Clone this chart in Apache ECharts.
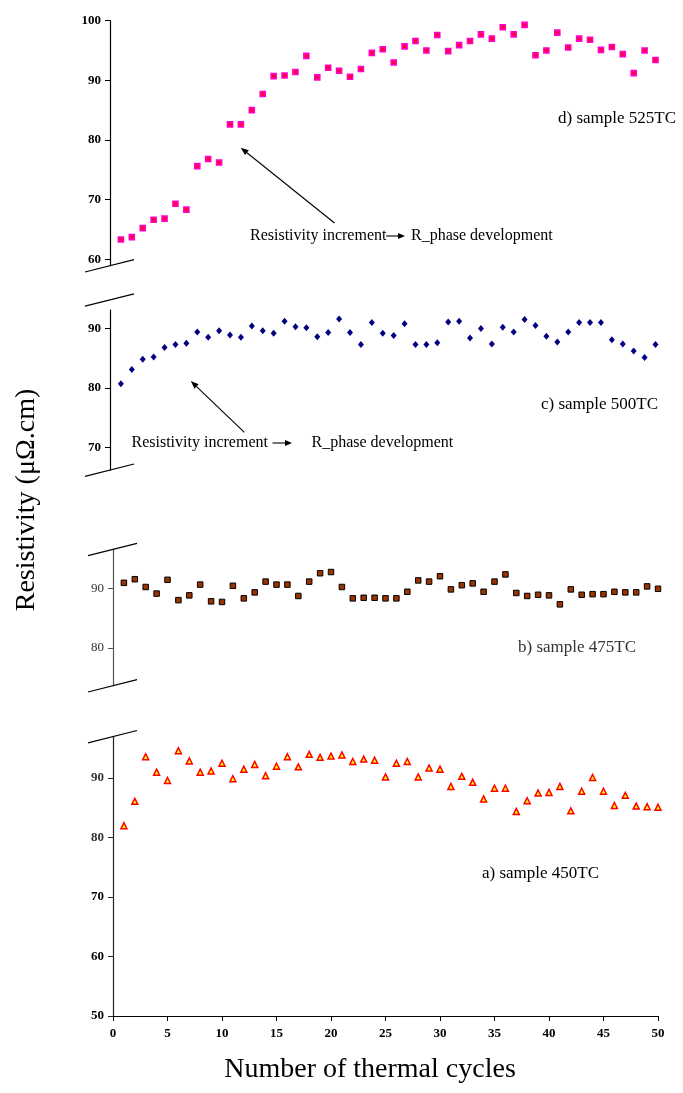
<!DOCTYPE html>
<html>
<head>
  <meta charset="utf-8">
  <title>Resistivity vs thermal cycles</title>
  <script src="https://cdn.jsdelivr.net/npm/echarts@6/dist/echarts.min.js"></script>
</head>
<body style="margin:0;background:#fff;">
  <div id="main" style="width:683px;height:1093px;"></div>
  <script type="text/javascript">
    // cycle numbers 1..50
    var cycles = [1,2,3,4,5,6,7,8,9,10,11,12,13,14,15,16,17,18,19,20,21,22,23,24,25,
      26,27,28,29,30,31,32,33,34,35,36,37,38,39,40,41,42,43,44,45,46,47,48,49,50];

    // d) sample 525TC
    var r525 = [63.3,63.7,65.2,66.6,66.8,69.3,68.3,75.6,76.8,76.2,82.6,82.6,85.0,87.7,90.7,90.8,91.4,94.1,90.5,92.1,
      91.6,90.6,91.9,94.6,95.2,93.0,95.7,96.6,95.0,97.6,94.9,95.9,96.6,97.7,97.0,98.9,97.7,99.3,94.2,95.0,
      98.0,95.5,97.0,96.8,95.1,95.6,94.4,91.2,95.0,93.4];
    // c) sample 500TC
    var r500 = [80.7,83.1,84.8,85.2,86.8,87.3,87.5,89.4,88.5,89.6,88.9,88.5,90.4,89.6,89.2,91.2,90.3,90.1,88.6,89.3,
      91.6,89.3,87.3,91.0,89.2,88.8,90.8,87.3,87.3,87.6,91.1,91.2,88.4,90.0,87.4,90.2,89.4,91.5,90.5,88.7,
      87.7,89.4,91.0,91.0,91.0,88.1,87.4,86.2,85.1,87.3];
    // b) sample 475TC
    var r475 = [90.9,91.5,90.2,89.1,91.4,88.0,88.8,90.6,87.8,87.7,90.4,88.3,89.3,91.1,90.6,90.6,88.7,91.1,92.5,92.7,
      90.2,88.3,88.4,88.4,88.3,88.3,89.4,91.3,91.1,92.0,89.8,90.5,90.8,89.4,91.1,92.3,89.2,88.7,88.9,88.8,
      87.3,89.8,88.9,89.0,89.0,89.4,89.3,89.3,90.3,89.9];
    // a) sample 450TC
    var r450 = [82.0,86.1,93.6,91.0,89.6,94.6,92.9,91.0,91.2,92.5,89.9,91.5,92.3,90.4,92.0,93.6,91.9,94.0,93.5,93.7,
      93.9,92.8,93.2,93.0,90.2,92.5,92.8,90.2,91.7,91.5,88.6,90.3,89.3,86.5,88.3,88.3,84.4,86.2,87.5,87.6,
      88.6,84.5,87.8,90.1,87.8,85.4,87.1,85.3,85.2,85.1];

    var labels = ['d) sample 525TC', 'c) sample 500TC', 'b) sample 475TC', 'a) sample 450TC'];
    var ticksD = [60, 70, 80, 90, 100];
    var ticksC = [70, 80, 90];
    var ticksB = [80, 90];
    var ticksA = [50, 60, 70, 80, 90];
    var xTicks = [0, 5, 10, 15, 20, 25, 30, 35, 40, 45, 50];
    var annText1 = 'Resistivity increment';
    var annText2 = 'R_phase development';
    var yTitle = 'Resistivity (\u03bc\u03a9.cm)';
    var xTitle = 'Number of thermal cycles';

    // axis ranges of each broken panel (d, c, b, a)
    var yMin = [58.9, 66.2, 73.7, 50];
    var yMax = [100, 93.1, 96.5, 97];
    // where the "//" break marks sit on each axis
    var breaks = [[58.9], [94.8, 66.2], [96.5, 73.7], [97]];

    var FONT = 'Liberation Serif';

    function pairs(ys) {
      var out = [];
      for (var i = 0; i < ys.length; i++) out.push([cycles[i], ys[i]]);
      return out;
    }

    function renderBreak(params, api) {
      var p = api.coord([api.value(0), api.value(1)]);
      return {
        type: 'line',
        shape: { x1: p[0] - 25, y1: p[1] + 6.3, x2: p[0] + 24, y2: p[1] - 6 },
        style: { stroke: '#000', lineWidth: 1.2 }
      };
    }

    function yAxisFor(i, ticks, color, bold) {
      return {
        type: 'value', gridIndex: i, min: yMin[i], max: yMax[i],
        axisLine: { show: true, lineStyle: { color: color, width: 1.2 } },
        axisTick: { show: true, length: 5, customValues: ticks, lineStyle: { color: color } },
        axisLabel: {
          customValues: ticks, margin: 9, fontFamily: FONT, fontSize: 13,
          color: '#000', fontWeight: bold ? 'bold' : 'normal'
        },
        splitLine: { show: false }
      };
    }

    var grids = [
      { left: 110, width: 545.5, top: 20.7, height: 245, containLabel: false },
      { left: 110, width: 545.5, top: 310, height: 160, containLabel: false },
      { left: 113, width: 545, top: 549.3, height: 136.4, containLabel: false },
      { left: 113, width: 545, top: 736.5, height: 279.5, containLabel: false }
    ];

    var xAxes = [];
    for (var g = 0; g < 4; g++) {
      xAxes.push({
        type: 'value', gridIndex: g, min: 0, max: 50, interval: 5,
        show: g === 3,
        axisLine: { show: true, lineStyle: { color: '#000', width: 1.2 } },
        axisTick: { show: true, length: 5, lineStyle: { color: '#000' } },
        axisLabel: { margin: 11, fontFamily: FONT, fontSize: 13, fontWeight: 'bold', color: '#000' },
        splitLine: { show: false }
      });
    }

    var yA = yAxisFor(3, ticksA, '#222', true);
    // upper labels of panel a are lighter in the original
    yA.axisLabel.formatter = function (v) {
      return v >= 80 ? '{l|' + v + '}' : '{b|' + v + '}';
    };
    yA.axisLabel.rich = {
      l: { fontFamily: FONT, fontSize: 13, color: '#333' },
      b: { fontFamily: FONT, fontSize: 13, color: '#000', fontWeight: 'bold' }
    };
    var yAxes = [
      yAxisFor(0, ticksD, '#000', true),
      yAxisFor(1, ticksC, '#000', true),
      yAxisFor(2, ticksB, '#555', false),
      yA
    ];
    yAxes[2].axisLabel.color = '#333';

    var series = [
      {
        type: 'scatter', xAxisIndex: 0, yAxisIndex: 0, data: pairs(r525),
        symbol: 'rect', symbolSize: 5,
        itemStyle: { color: '#ff0033', borderColor: '#ff00cc', borderWidth: 1.6, opacity: 1 }
      },
      {
        type: 'scatter', xAxisIndex: 1, yAxisIndex: 1, data: pairs(r500),
        symbol: 'diamond', symbolSize: [6, 7],
        itemStyle: { color: '#000080', opacity: 1 }
      },
      {
        type: 'scatter', xAxisIndex: 2, yAxisIndex: 2, data: pairs(r475),
        symbol: 'rect', symbolSize: 5.5,
        itemStyle: { color: '#993300', borderColor: '#000', borderWidth: 1, opacity: 1 }
      },
      {
        type: 'scatter', xAxisIndex: 3, yAxisIndex: 3, data: pairs(r450),
        symbol: 'triangle', symbolSize: [6, 6],
        itemStyle: { color: '#ffff00', borderColor: '#ff0000', borderWidth: 1.5, opacity: 1 }
      }
    ];
    for (var b = 0; b < 4; b++) {
      var bd = [];
      for (var k = 0; k < breaks[b].length; k++) bd.push([0, breaks[b][k]]);
      series.push({
        type: 'custom', xAxisIndex: b, yAxisIndex: b, data: bd,
        renderItem: renderBreak, silent: true, clip: false, z: 5
      });
    }

    // arrow = line + small filled head at (x2, y2)
    function arrow(x1, y1, x2, y2, head) {
      var a = Math.atan2(y2 - y1, x2 - x1);
      var h = head || 7, w = 3;
      var bx = x2 - h * Math.cos(a), by = y2 - h * Math.sin(a);
      return [
        { type: 'line', shape: { x1: x1, y1: y1, x2: bx, y2: by }, style: { stroke: '#000', lineWidth: 1.1 }, silent: true },
        { type: 'polygon', shape: { points: [[x2, y2],
          [bx + w * Math.sin(a), by - w * Math.cos(a)],
          [bx - w * Math.sin(a), by + w * Math.cos(a)]] }, style: { fill: '#000' }, silent: true }
      ];
    }

    function txt(x, y, s, size, color, align) {
      return {
        type: 'text', x: x, y: y, silent: true,
        style: { text: s, fontFamily: FONT, fontSize: size, fill: color || '#000',
          textAlign: align || 'left', textVerticalAlign: 'middle', verticalAlign: 'middle' }
      };
    }

    var graphics = [
      txt(558, 119, labels[0], 17),
      txt(541, 405, labels[1], 17),
      txt(518, 648, labels[2], 17, '#333'),
      txt(482, 874, labels[3], 17),
      txt(250, 236, annText1, 16),
      txt(411, 236, annText2, 16),
      txt(131.5, 443, annText1, 16),
      txt(311.5, 443, annText2, 16),
      txt(370, 1070, xTitle, 28, '#000', 'center'),
      {
        type: 'text', x: 27, y: 500, rotation: Math.PI / 2, silent: true,
        style: { text: yTitle, fontFamily: FONT, fontSize: 28, fill: '#000',
          textAlign: 'center', textVerticalAlign: 'middle', verticalAlign: 'middle' }
      }
    ];
    graphics = graphics.concat(arrow(334.5, 223, 240.7, 147.7, 8));
    graphics = graphics.concat(arrow(386, 236, 405, 236, 7));
    graphics = graphics.concat(arrow(244.4, 432.3, 190.8, 381, 8));
    graphics = graphics.concat(arrow(272.5, 443, 292, 443, 7));

    var myChart = echarts.init(document.getElementById('main'));
    myChart.setOption({
      backgroundColor: '#fff',
      animation: false,
      grid: grids,
      xAxis: xAxes,
      yAxis: yAxes,
      series: series,
      graphic: graphics
    });
  </script>
</body>
</html>
